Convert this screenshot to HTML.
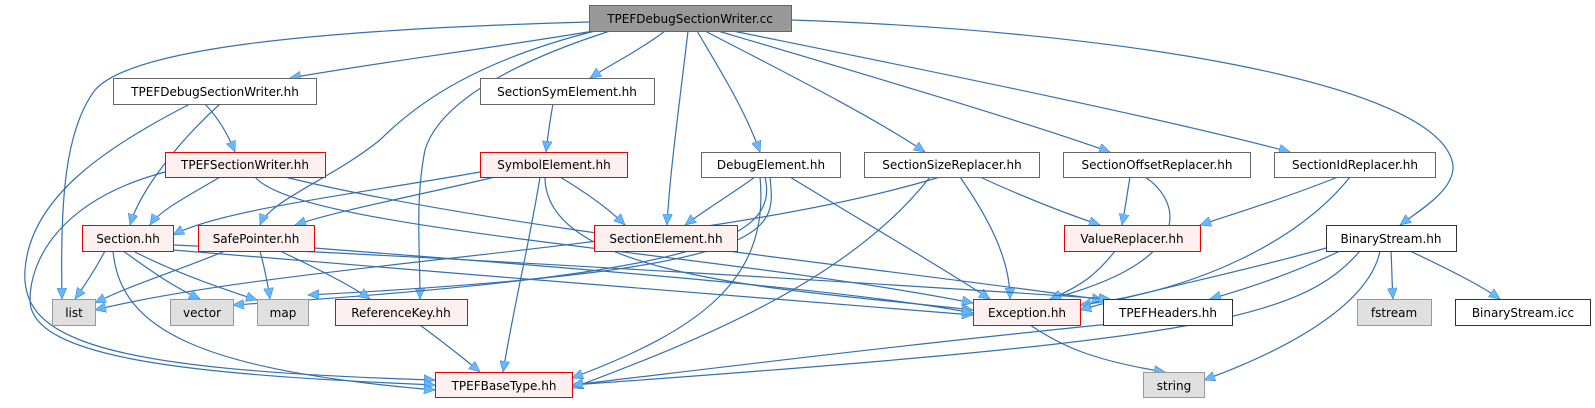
<!DOCTYPE html>
<html><head><meta charset="utf-8"><style>
html,body{margin:0;padding:0;background:#fff;}
svg text{font-family:"DejaVu Sans","Liberation Sans",sans-serif;font-size:12px;text-anchor:middle;fill:#000;}
</style></head><body>
<svg width="1595" height="403" viewBox="0 0 1595 403" xmlns="http://www.w3.org/2000/svg">
<defs>
<marker id="a" markerUnits="userSpaceOnUse" markerWidth="12" markerHeight="10" refX="11" refY="5" orient="auto">
<path d="M0,0 L11,5 L0,10 Z" fill="#63b8ff" stroke="#3a78b8" stroke-width="0.5"/>
</marker>
</defs>
<g fill="none" stroke="#3470b0" stroke-width="1.2" marker-end="url(#a)">
<path d="M589,22 C300,30 130,50 95,90 C65,130 60,200 62,299"/>
<path d="M600,30 C480,50 380,62 290,78"/>
<path d="M665,31 C640,50 610,65 590,78"/>
<path d="M688,31 C680,100 670,170 667,225"/>
<path d="M697,31 C720,70 745,110 760,152"/>
<path d="M705,31 C780,70 870,115 925,152"/>
<path d="M718,31 C850,70 1020,120 1110,152"/>
<path d="M733,31 C900,65 1150,115 1290,152"/>
<path d="M791,20 C1100,30 1440,80 1453,165 C1455,190 1420,210 1400,225"/>
<path d="M595,31 C480,60 420,100 380,140 C330,180 270,200 260,225"/>
<path d="M610,31 C520,60 440,100 425,150 C415,200 420,250 420,299"/>
<path d="M220,104 C180,140 140,190 130,225"/>
<path d="M205,104 C220,120 228,135 235,152"/>
<path d="M190,104 C100,150 30,200 25,270 C20,340 100,370 435,380"/>
<path d="M220,177 C190,195 160,210 150,225"/>
<path d="M165,172 C60,200 30,260 30,300 C30,360 200,375 435,385"/>
<path d="M255,177 C300,230 700,250 973,303"/>
<path d="M285,177 C500,230 900,270 1103,300"/>
<path d="M553,104 C550,120 548,135 546,152"/>
<path d="M480,172 C350,195 220,210 173,235"/>
<path d="M495,177 C420,195 340,210 295,225"/>
<path d="M560,177 C590,195 610,210 625,225"/>
<path d="M540,177 C530,240 515,300 503,372"/>
<path d="M545,177 C545,280 800,290 973,310"/>
<path d="M755,177 C730,195 705,210 685,225"/>
<path d="M770,177 C775,230 790,270 308,295"/>
<path d="M765,177 C780,240 700,275 233,305"/>
<path d="M760,177 C770,280 700,330 572,378"/>
<path d="M790,177 C860,220 930,260 990,299"/>
<path d="M940,177 C700,250 300,260 95,310"/>
<path d="M930,177 C850,280 700,340 572,388"/>
<path d="M960,177 C990,220 1010,260 1010,299"/>
<path d="M980,177 C1030,200 1070,215 1100,225"/>
<path d="M1130,177 C1127,195 1125,210 1122,225"/>
<path d="M1145,177 C1180,200 1200,260 1050,299"/>
<path d="M1338,177 C1280,200 1230,215 1200,225"/>
<path d="M1350,177 C1300,240 1200,290 1080,305"/>
<path d="M1115,251 C1100,270 1085,285 1050,299"/>
<path d="M1326,248 C1250,270 1150,290 1080,310"/>
<path d="M1340,251 C1300,270 1260,285 1210,299"/>
<path d="M1391,251 C1392,270 1392,285 1393,299"/>
<path d="M1410,251 C1450,270 1480,285 1500,299"/>
<path d="M1380,251 C1370,300 1300,345 1204,380"/>
<path d="M1360,251 C1300,320 1200,340 572,385"/>
<path d="M105,251 C95,270 85,285 75,299"/>
<path d="M123,251 C150,270 170,285 200,299"/>
<path d="M133,251 C170,270 210,285 257,300"/>
<path d="M113,251 C120,330 200,370 435,390"/>
<path d="M173,250 C400,270 800,300 973,315"/>
<path d="M173,245 C500,260 900,285 1110,299"/>
<path d="M225,251 C180,270 130,285 95,303"/>
<path d="M260,251 C265,270 268,285 270,299"/>
<path d="M280,251 C320,270 350,285 370,299"/>
<path d="M314,248 C600,270 850,290 973,313"/>
<path d="M420,325 C440,340 460,355 480,372"/>
<path d="M1030,325 C1060,345 1090,360 1165,372"/>
<path d="M1110,324 C900,345 700,370 572,385"/>
</g>
<g stroke-width="1">
<rect x="589.5" y="5.5" width="202" height="26" fill="#999" stroke="#666"/>
<rect x="113.5" y="78.5" width="203" height="26" fill="#fff" stroke="#666"/>
<rect x="480.5" y="78.5" width="174" height="26" fill="#fff" stroke="#666"/>
<rect x="165.5" y="152.5" width="160" height="25" fill="#fff0f0" stroke="#e00"/>
<rect x="480.5" y="152.5" width="147" height="25" fill="#fff0f0" stroke="#e00"/>
<rect x="701.5" y="152.5" width="139" height="25" fill="#fff" stroke="#666"/>
<rect x="864.5" y="152.5" width="175" height="25" fill="#fff" stroke="#666"/>
<rect x="1063.5" y="152.5" width="187" height="25" fill="#fff" stroke="#666"/>
<rect x="1274.5" y="152.5" width="161" height="25" fill="#fff" stroke="#666"/>
<rect x="82.5" y="225.5" width="91" height="26" fill="#fff0f0" stroke="#e00"/>
<rect x="198.5" y="225.5" width="116" height="26" fill="#fff0f0" stroke="#e00"/>
<rect x="594.5" y="225.5" width="143" height="26" fill="#fff0f0" stroke="#e00"/>
<rect x="1064.5" y="225.5" width="136" height="26" fill="#fff0f0" stroke="#e00"/>
<rect x="1326.5" y="225.5" width="130" height="26" fill="#fff" stroke="#333"/>
<rect x="52.5" y="299.5" width="43" height="26" fill="#e0e0e0" stroke="#999"/>
<rect x="170.5" y="299.5" width="63" height="26" fill="#e0e0e0" stroke="#999"/>
<rect x="257.5" y="299.5" width="51" height="26" fill="#e0e0e0" stroke="#999"/>
<rect x="335.5" y="299.5" width="132" height="26" fill="#fff0f0" stroke="#e00"/>
<rect x="973.5" y="299.5" width="107" height="26" fill="#fff0f0" stroke="#e00"/>
<rect x="1103.5" y="299.5" width="129" height="26" fill="#fff" stroke="#333"/>
<rect x="1357.5" y="299.5" width="74" height="26" fill="#e0e0e0" stroke="#999"/>
<rect x="1455.5" y="299.5" width="135" height="26" fill="#fff" stroke="#333"/>
<rect x="435.5" y="372.5" width="137" height="25" fill="#fff0f0" stroke="#e00"/>
<rect x="1143.5" y="372.5" width="61" height="25" fill="#e0e0e0" stroke="#999"/>
</g>
<g>
<text x="690" y="23">TPEFDebugSectionWriter.cc</text>
<text x="215" y="96">TPEFDebugSectionWriter.hh</text>
<text x="567" y="96">SectionSymElement.hh</text>
<text x="245" y="169">TPEFSectionWriter.hh</text>
<text x="554" y="169">SymbolElement.hh</text>
<text x="771" y="169">DebugElement.hh</text>
<text x="952" y="169">SectionSizeReplacer.hh</text>
<text x="1157" y="169">SectionOffsetReplacer.hh</text>
<text x="1355" y="169">SectionIdReplacer.hh</text>
<text x="128" y="243">Section.hh</text>
<text x="256" y="243">SafePointer.hh</text>
<text x="666" y="243">SectionElement.hh</text>
<text x="1132" y="243">ValueReplacer.hh</text>
<text x="1391" y="243">BinaryStream.hh</text>
<text x="74" y="317">list</text>
<text x="202" y="317">vector</text>
<text x="283" y="317">map</text>
<text x="401" y="317">ReferenceKey.hh</text>
<text x="1027" y="317">Exception.hh</text>
<text x="1168" y="317">TPEFHeaders.hh</text>
<text x="1394" y="317">fstream</text>
<text x="1523" y="317">BinaryStream.icc</text>
<text x="504" y="390">TPEFBaseType.hh</text>
<text x="1174" y="390">string</text>
</g>
</svg>
</body></html>
